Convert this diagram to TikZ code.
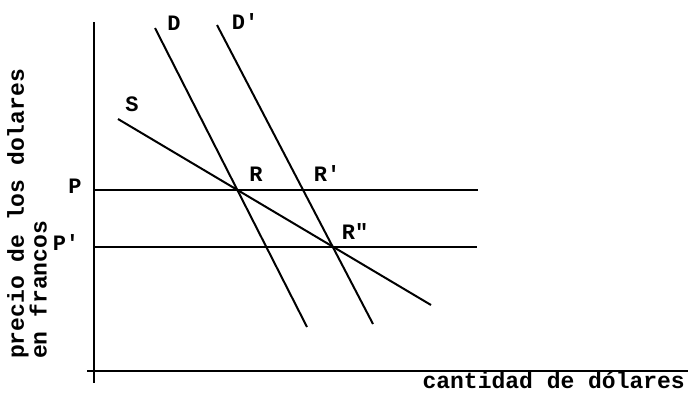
\documentclass[tikz,border=0pt]{standalone}
\usepackage{fontspec}
\setmonofont{Liberation Mono}
\usepackage{tikz}
\usetikzlibrary{calc}
\tikzset{
  curve/.style={line width=2pt},
  lbl/.style={font=\ttfamily\bfseries\fontsize{22}{24}\selectfont, inner sep=0pt},
  axlbl/.style={font=\ttfamily\bfseries\fontsize{23}{15.5}\selectfont, inner sep=0pt},
}

\begin{document}
\begin{tikzpicture}[x=1pt,y=-1pt]
    \useasboundingbox (0,0) rectangle (688,392);

    % Axes
    \coordinate (yTop) at (94,22);
    \coordinate (yBot) at (94,383);
    \coordinate (xLeft) at (87,371);
    \coordinate (xRight) at (688,371);
    \draw[curve] (yTop)--(yBot);
    \draw[curve] (xLeft)--(xRight);

    % Price levels
    \coordinate (pA) at (94,190);
    \coordinate (pB) at (478,190);
    \coordinate (qA) at (94,247);
    \coordinate (qB) at (477,247);
    \draw[curve] (pA)--(pB);
    \draw[curve] (qA)--(qB);

    % Supply
    \coordinate (sTop) at (118,119);
    \coordinate (sBot) at (431,305);
    \draw[curve] (sTop)--(sBot);

    % Demand, old and new
    \coordinate (dTop) at (155,28);
    \coordinate (dBot) at (307,327);
    \coordinate (ddTop) at (217,25);
    \coordinate (ddBot) at (373,324);
    \draw[curve] (dTop)--(dBot);
    \draw[curve] (ddTop)--(ddBot);

    % Labels
    \node[lbl] (labD) at (174,23) {D};
    \node[lbl] (labDD) at (245,22) {D'};
    \node[lbl] (labS) at (132,104) {S};
    \node[lbl] (labP) at (75,186) {P};
    \node[lbl] (labPP) at (66,243) {P'};
    \node[lbl] (labR) at (256,174) {R};
    \node[lbl] (labRR) at (327,174) {R'};
    \node[lbl] (labRRR) at (355,232) {R"};

    % Axis titles
    \node[axlbl,rotate=90,anchor=north west,align=left] (ytitle) at (7,359)
        {precio de los dolares\\en francos};
    \node[axlbl,anchor=east] (xtitle) at (685,380) {cantidad de dólares};
\end{tikzpicture}
\end{document}
